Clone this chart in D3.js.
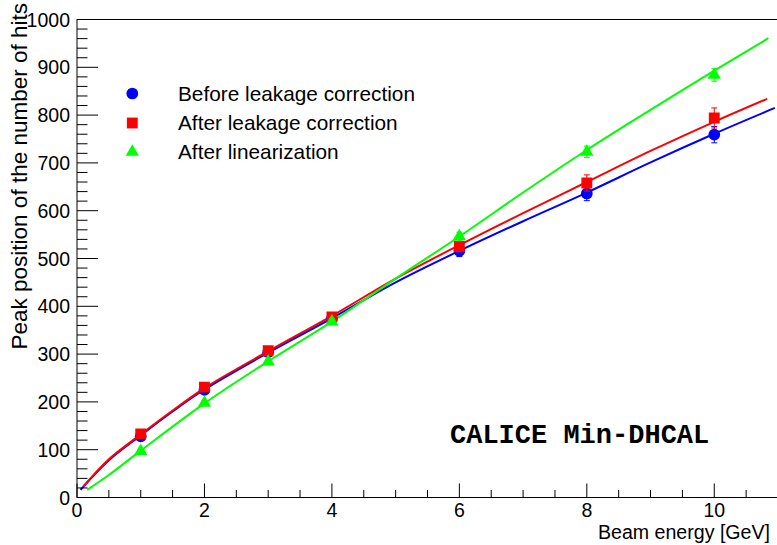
<!DOCTYPE html>
<html><head><meta charset="utf-8">
<script src="https://cdn.jsdelivr.net/npm/d3@7"></script>
<style>body{margin:0;background:#fff}svg{display:block}</style>
</head><body><svg id="c" width="777" height="545"></svg>
<script>
// ---- data ----
const energies   = [1, 2, 3, 4, 6, 8, 10];
const beforeVals = [128, 225, 304, 374, 516, 636, 759];
const beforeErr  = [4, 4, 5, 6, 12, 15, 17];
const afterVals  = [133, 231, 307, 378, 525, 658, 794];
const afterErr   = [4, 4, 5, 6, 11, 17, 21];
const linVals    = [97, 198, 284, 368, 546, 723, 884];
const linErr     = [3, 4, 5, 6, 9, 12, 13];

const beforeFitX = [0.055, 0.5, 1, 1.5, 2, 3, 4, 5, 6, 7, 8, 9, 10, 10.95];
const beforeFitY = [16, 78, 130, 180, 226, 303, 375, 450, 516, 578, 638, 701, 761, 815];
const afterFitX  = [0.1, 0.5, 1, 1.5, 2, 3, 4, 5, 6, 7, 8, 9, 10, 10.83];
const afterFitY  = [23, 80, 132, 182, 229, 306, 380, 458, 528, 595, 660, 725, 786, 834];
const linFitX    = [0.16, 0.5, 1, 2, 3, 4, 5, 6, 7, 8, 9, 10, 10.85];
const linFitY    = [16, 47, 98, 197, 285, 368, 458, 546, 638, 727, 811, 893, 961];

const xTickLabels = [0, 2, 4, 6, 8, 10];
const yTickLabels = [0, 100, 200, 300, 400, 500, 600, 700, 800, 900, 1000];
const legendLabels = ["Before leakage correction", "After leakage correction", "After linearization"];
const xTitle = "Beam energy [GeV]";
const yTitle = "Peak position of the number of hits";
const stamp = "CALICE Min-DHCAL";

// ---- drawing ----
const svg = d3.select("#c");
const L = 77, R = 778, T = 19.5, B = 497.5;
const x = d3.scaleLinear().domain([0, 11]).range([L, R]);
const y = d3.scaleLinear().domain([0, 1000]).range([B, T]);
const sans = "'Liberation Sans', Arial, Helvetica, sans-serif";

const series = [
  {vals: beforeVals, err: beforeErr, fx: beforeFitX, fy: beforeFitY, color: "#0000ff", sym: d3.symbolCircle, size: 108},
  {vals: afterVals,  err: afterErr,  fx: afterFitX,  fy: afterFitY,  color: "#ff0000", sym: d3.symbolSquare, size: 118},
  {vals: linVals,    err: linErr,    fx: linFitX,    fy: linFitY,    color: "#00ff00", sym: d3.symbolTriangle, size: 76}
];

const clip = svg.append("defs").append("clipPath").attr("id", "pc");
clip.append("rect").attr("x", L).attr("y", T).attr("width", R - L).attr("height", B - T);

// fits
const line = d3.line().x(d => x(d[0])).y(d => y(d[1])).curve(d3.curveCatmullRom.alpha(0.5));
const gPlot = svg.append("g").attr("clip-path", "url(#pc)");
series.forEach(s => {
  gPlot.append("path").datum(s.fx.map((v, i) => [v, s.fy[i]]))
    .attr("d", line).attr("fill", "none").attr("stroke", s.color).attr("stroke-width", 2);
});
// error bars and markers
series.forEach(s => {
  const g = gPlot.append("g");
  energies.forEach((e, i) => {
    const cx = x(e), y1 = y(s.vals[i] - s.err[i]), y2 = y(s.vals[i] + s.err[i]);
    g.append("line").attr("x1", cx).attr("x2", cx).attr("y1", y1).attr("y2", y2)
      .attr("stroke", s.color).attr("stroke-width", 1);
    [y1, y2].forEach(yy => g.append("line").attr("x1", cx - 3).attr("x2", cx + 3)
      .attr("y1", yy).attr("y2", yy).attr("stroke", s.color).attr("stroke-width", 1));
  });
  g.selectAll("path").data(energies).join("path")
    .attr("d", d3.symbol().type(s.sym).size(s.size))
    .attr("transform", (e, i) => `translate(${x(e)},${y(s.vals[i])})`)
    .attr("fill", s.color);
});

// frame
svg.append("rect").attr("x", L).attr("y", T).attr("width", R - L).attr("height", B - T)
  .attr("fill", "none").attr("stroke", "#000").attr("stroke-width", 1);

// ticks x
const xMinor = d3.range(0, 11.01, 0.5);
svg.append("g").selectAll("line").data(xMinor).join("line")
  .attr("x1", d => x(d)).attr("x2", d => x(d))
  .attr("y1", B).attr("y2", d => B - (d % 2 === 0 ? 14 : 7.5))
  .attr("stroke", "#000").attr("stroke-width", 1);
svg.append("g").selectAll("text").data(xTickLabels).join("text")
  .attr("x", d => x(d)).attr("y", 516.5).attr("text-anchor", "middle")
  .attr("font-family", sans).attr("font-size", 19.5).text(d => d);

// ticks y
const yMinor = d3.range(0, 1001, 20);
svg.append("g").selectAll("line").data(yMinor).join("line")
  .attr("y1", d => y(d)).attr("y2", d => y(d))
  .attr("x1", L).attr("x2", d => L + (d % 100 === 0 ? 21 : 10.5))
  .attr("stroke", "#000").attr("stroke-width", 1);
svg.append("g").selectAll("text").data(yTickLabels).join("text")
  .attr("x", 70).attr("y", d => y(d)).attr("dy", "0.36em").attr("text-anchor", "end")
  .attr("font-family", sans).attr("font-size", 19.5).text(d => d);

// axis titles
svg.append("text").attr("x", 770).attr("y", 538.5).attr("text-anchor", "end")
  .attr("font-family", sans).attr("font-size", 19.6).text(xTitle);
svg.append("text").attr("transform", "translate(27,3) rotate(-90)").attr("text-anchor", "end")
  .attr("font-family", sans).attr("font-size", 22.5).text(yTitle);

// legend
const legY = [93.5, 123, 152];
series.forEach((s, i) => {
  svg.append("path").attr("d", d3.symbol().type(s.sym).size(s.size))
    .attr("transform", `translate(132.3,${legY[i]})`).attr("fill", s.color);
  svg.append("text").attr("x", 178).attr("y", legY[i]).attr("dy", "0.36em")
    .attr("font-family", sans).attr("font-size", 20.8).text(legendLabels[i]);
});

// stamp
svg.append("text").attr("x", 450).attr("y", 443).attr("font-family", "'Liberation Mono', 'Courier New', monospace")
  .attr("font-weight", "bold").attr("font-size", 27).text(stamp);
</script></body></html>
